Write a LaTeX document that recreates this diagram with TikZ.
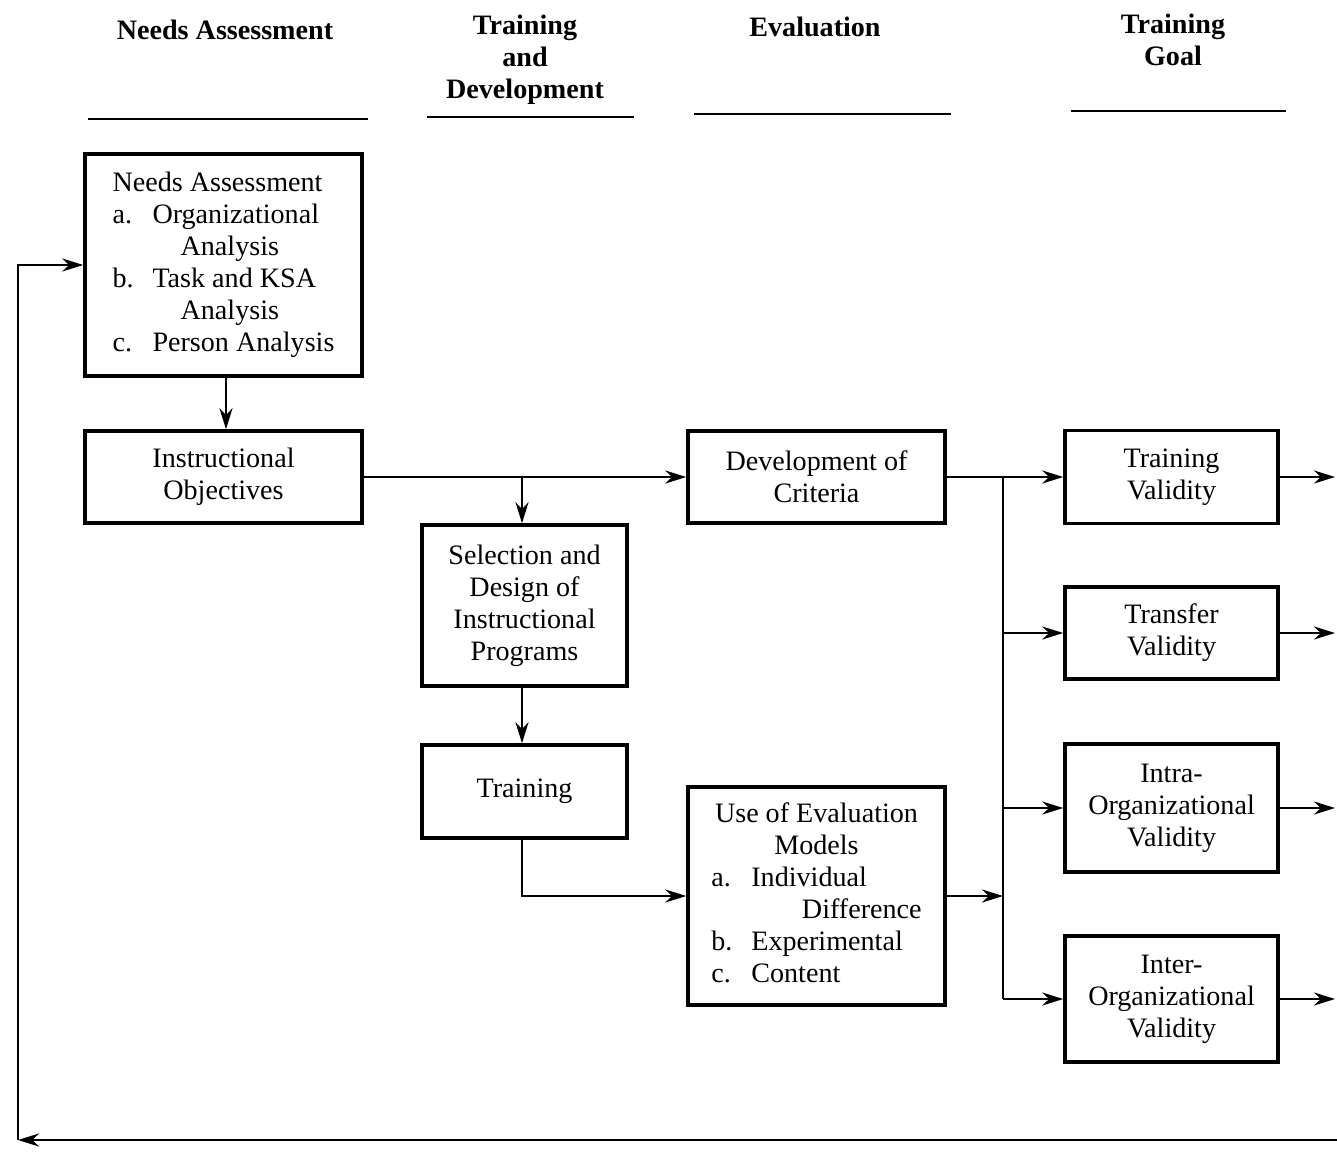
\documentclass[tikz,border=0pt]{standalone}
\usepackage{fontspec}
\setmainfont{Liberation Serif}
\usetikzlibrary{arrows.meta}
\begin{document}
\begin{tikzpicture}[x=0.02cm,y=-0.02cm,
  font=\fontsize{16}{18.2}\selectfont,
  box/.style={draw, line width=2pt, align=center, inner sep=0pt},
  hdr/.style={align=center, font=\fontsize{16}{18.2}\selectfont\bfseries},
  rule/.style={line width=1.4pt},
  conn/.style={line width=1.5pt},
  arr/.style={conn, -{Stealth[length=0.42cm,width=0.26cm]}}]
\useasboundingbox (0,0) rectangle (1337,1152);

% headers
\node[hdr] (h1) at (225,30) {Needs Assessment};
\node[hdr] (h2) at (525,60) {Training\\and\\Development};
\node[hdr] (h3) at (815,27) {Evaluation};
\node[hdr] (h4) at (1173,40) {Training\\Goal};
\draw[rule] (88,119) -- (368,119);
\draw[rule] (427,117) -- (634,117);
\draw[rule] (694,114) -- (951,114);
\draw[rule] (1071,111) -- (1286,111);

% boxes
\node[box, minimum width=5.54cm, minimum height=4.44cm] (needs) at (223.5,265) {%
  \begin{tabular}{@{}p{0.8cm}@{}l@{}}
  \multicolumn{2}{@{}l@{}}{Needs Assessment}\\
  a. & Organizational\\
     & \hspace{1em}Analysis\\
  b. & Task and KSA\\
     & \hspace{1em}Analysis\\
  c. & Person Analysis
  \end{tabular}};
\node[box, minimum width=5.54cm, minimum height=1.84cm] (obj) at (223.5,477) {Instructional\\Objectives};
\node[box, minimum width=4.1cm, minimum height=3.22cm] (sel) at (524.5,605.5) {Selection and\\Design of\\Instructional\\Programs};
\node[box, minimum width=4.1cm, minimum height=1.86cm] (train) at (524.5,791.5) {Training};
\node[box, minimum width=5.14cm, minimum height=1.84cm] (crit) at (816.5,477) {Development of\\Criteria};
\node[box, minimum width=5.14cm, minimum height=4.36cm] (use) at (816.5,896) {%
  \begin{tabular}{@{}p{0.8cm}@{}l@{}}
  \multicolumn{2}{@{}c@{}}{Use of Evaluation}\\
  \multicolumn{2}{@{}c@{}}{Models}\\
  a. & Individual\\
     & \hspace{1.8em}Difference\\
  b. & Experimental\\
  c. & Content
  \end{tabular}};
\node[box, minimum width=4.26cm, minimum height=1.86cm] (tv) at (1171.5,477) {Training\\Validity};
\node[box, minimum width=4.26cm, minimum height=1.84cm] (trv) at (1171.5,633) {Transfer\\Validity};
\node[box, minimum width=4.26cm, minimum height=2.56cm] (intra) at (1171.5,808) {Intra-\\Organizational\\Validity};
\node[box, minimum width=4.26cm, minimum height=2.52cm] (inter) at (1171.5,999) {Inter-\\Organizational\\Validity};

% coordinates
\coordinate (b1) at (522,477);
\coordinate (bus) at (1003,477);
\coordinate (edge) at (1335,0);
\coordinate (fbR) at (1337,1140);
\coordinate (fbL) at (18,1140);

% connectors
\draw[arr] (needs.south -| 226,0) -- (obj.north -| 226,0);
\draw[arr] (obj.east) -- (crit.west);
\draw[arr] (b1) -- (b1 |- sel.north);
\draw[arr] (sel.south -| b1) -- (train.north -| b1);
\draw[arr] (train.south -| b1) |- (use.west);
\draw[arr] (crit.east) -- (tv.west);
\draw[conn] (bus) -- (bus |- inter.west);
\draw[arr] (bus |- trv.west) -- (trv.west);
\draw[arr] (bus |- intra.west) -- (intra.west);
\draw[arr] (bus |- inter.west) -- (inter.west);
\draw[arr] (use.east) -- (use.east -| bus);
\draw[arr] (tv.east) -- (tv.east -| edge);
\draw[arr] (trv.east) -- (trv.east -| edge);
\draw[arr] (intra.east) -- (intra.east -| edge);
\draw[arr] (inter.east) -- (inter.east -| edge);
\draw[arr] (fbR) -- (fbL);
\draw[arr] (fbL) |- (needs.west);
\end{tikzpicture}
\end{document}
